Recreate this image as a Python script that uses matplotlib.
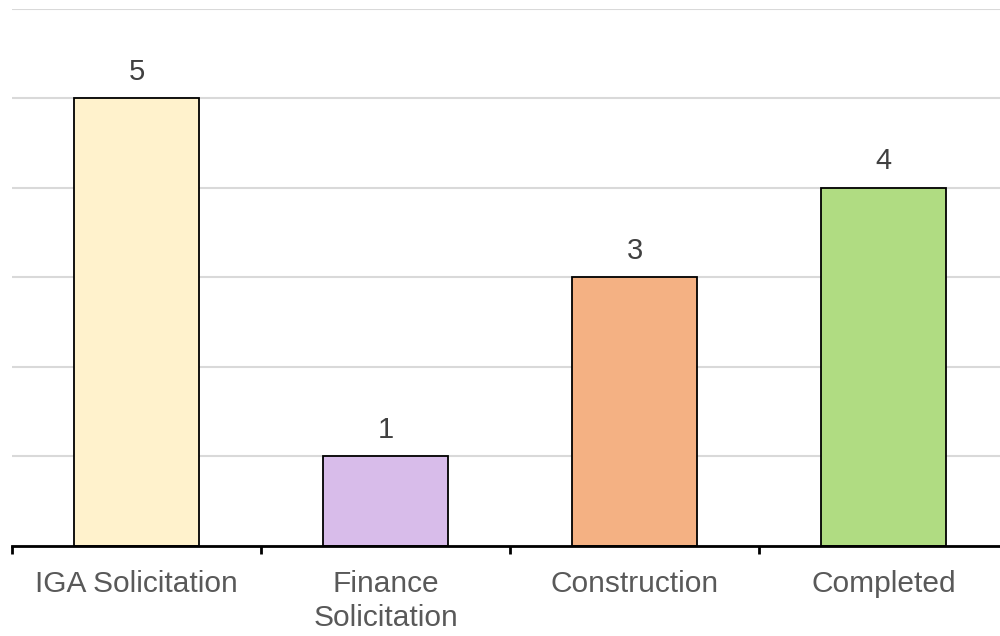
import matplotlib
matplotlib.use("Agg")
import matplotlib.pyplot as plt

categories = ["IGA Solicitation", "Finance\nSolicitation", "Construction", "Completed"]
values = [5, 1, 3, 4]
colors = ["#FFF2CC", "#D8BCEA", "#F4B183", "#B0DC82"]

plt.rcParams['font.family'] = ['Liberation Sans', 'DejaVu Sans']

fig = plt.figure(figsize=(10, 6.36), dpi=100)
ax = fig.add_axes([0.012, 0.1415, 0.996, 0.845])

x = list(range(len(categories)))
bars = ax.bar(x, values, width=0.5, color=colors, edgecolor="black", linewidth=1.3, zorder=3)

for xi, v in zip(x, values):
    ax.annotate(str(v), (xi, v), xytext=(0, 9), textcoords="offset points",
                ha="center", va="bottom", fontsize=21, color="#404040")

ax.set_xlim(-0.5, 3.5)
ax.set_ylim(0, 6)
ax.set_yticks(range(0, 7))
ax.yaxis.grid(True, color="#D9D9D9", linewidth=1.5, zorder=0)
ax.tick_params(axis="y", left=False, labelleft=False)

ax.set_xticks([-0.5, 0.5, 1.5, 2.5, 3.5], minor=False)
ax.set_xticklabels([])
ax.set_xticks(x, minor=True)
ax.set_xticklabels(categories, minor=True, fontsize=21.5, color="#595959", linespacing=1.3)
ax.tick_params(axis="x", which="major", direction="out", length=6, width=2, color="black")
ax.tick_params(axis="x", which="minor", length=0, pad=17)

for s in ["top", "right", "left"]:
    ax.spines[s].set_visible(False)
ax.spines["bottom"].set_linewidth(2)
ax.spines["bottom"].set_zorder(4)

fig.savefig("out.png", dpi=100)
